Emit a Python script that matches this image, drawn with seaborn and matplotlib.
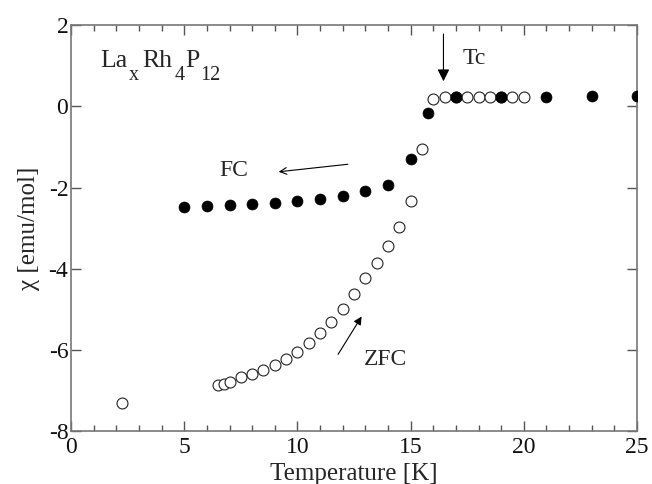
import numpy as np
import pandas as pd
import matplotlib
matplotlib.use("Agg")
import matplotlib.pyplot as plt
import seaborn as sns
from matplotlib.ticker import MultipleLocator

# --- donnees ---
temp_zfc = [2.25, 6.5, 6.75, 7.0, 7.5, 8.0, 8.5, 9.0, 9.5, 10.0, 10.5, 11.0, 11.5,
            12.0, 12.5, 13.0, 13.5, 14.0, 14.5, 15.0, 15.5, 16.0, 16.5, 17.0,
            17.5, 18.0, 18.5, 19.0, 19.5, 20.0]
chi_zfc = [-7.30, -6.87, -6.83, -6.79, -6.68, -6.60, -6.50, -6.37, -6.23, -6.05,
           -5.84, -5.59, -5.31, -5.00, -4.63, -4.24, -3.85, -3.43, -2.98, -2.33,
           -1.04, 0.17, 0.24, 0.24, 0.24, 0.24, 0.24, 0.24, 0.24, 0.24]

temp_fc = [5, 6, 7, 8, 9, 10, 11, 12, 13, 14, 15, 15.75, 17, 19, 21, 23, 25]
chi_fc = [-2.48, -2.46, -2.43, -2.41, -2.38, -2.33, -2.29, -2.21, -2.08, -1.94,
          -1.31, -0.17, 0.22, 0.24, 0.24, 0.25, 0.25]

# morceaux de la formule La_x Rh_4 P_12 (texte, indice ou non)
formula_parts = [("La", False), ("x", True), ("Rh", False), ("4", True),
                 ("P", False), ("12", True)]

sns.set_style("ticks")
plt.rcParams['font.family'] = ['Liberation Serif', 'DejaVu Serif']
plt.rcParams['axes.unicode_minus'] = False

df_zfc = pd.DataFrame({"T": temp_zfc, "chi": chi_zfc})
df_fc = pd.DataFrame({"T": temp_fc, "chi": chi_fc})

fig = plt.figure(figsize=(6.52, 4.84), dpi=100)
ax = fig.add_axes([0.109, 0.1095, 0.868, 0.8385])

sns.scatterplot(data=df_zfc, x="T", y="chi", ax=ax, marker="o", s=62,
                facecolor="white", edgecolor="#222222", linewidth=0.8, zorder=3)
sns.scatterplot(data=df_fc, x="T", y="chi", ax=ax, marker="o", s=62,
                color="black", edgecolor="black", linewidth=0.5, zorder=4)

ax.set_xlim(0, 25)
ax.set_ylim(-8, 2)
ax.xaxis.set_major_locator(MultipleLocator(5))
ax.xaxis.set_minor_locator(MultipleLocator(1))
ax.yaxis.set_major_locator(MultipleLocator(2))
ax.tick_params(which="both", direction="in", top=True, right=True,
               color="#555555", labelsize=17, labelcolor="#111111")
ax.tick_params(which="major", length=7, width=1)
ax.tick_params(which="minor", length=4, width=1)
ax.tick_params(axis="x", pad=4)
ax.tick_params(axis="y", pad=2)
for sp in ax.spines.values():
    sp.set_color("#777777")
    sp.set_linewidth(1.2)

ax.set_xlabel("Temperature [K]", fontsize=18, labelpad=4)
ax.set_ylabel("χ [emu/mol]", fontsize=18, labelpad=6)

# formule, indices bien descendus comme sur l'original
xpos = [1.28, 2.56, 3.14, 4.59, 5.04, 5.70]
for (txt, sub), xp in zip(formula_parts, xpos):
    ax.text(xp, 0.645 if sub else 0.97, txt, fontsize=14.5 if sub else 18.5,
            va="baseline", ha="left")

# annotations
ax.text(17.3, 1.19, "Tc", fontsize=17, va="center", ha="left")
ax.annotate("", xy=(16.45, 0.55), xytext=(16.45, 1.85),
            arrowprops=dict(arrowstyle="-|>", color="black", lw=0.8,
                            mutation_scale=18))
ax.text(7.2, -1.57, "FC", fontsize=17, ha="center", va="center")
ax.annotate("", xy=(9.05, -1.62), xytext=(12.35, -1.42),
            arrowprops=dict(arrowstyle="->", color="black", lw=0.8,
                            mutation_scale=12))
ax.text(13.9, -6.23, "ZFC", fontsize=17, ha="center", va="center")
ax.annotate("", xy=(12.9, -5.12), xytext=(11.73, -6.17),
            arrowprops=dict(arrowstyle="-|>", color="black", lw=0.8,
                            mutation_scale=12))

fig.savefig("out.png", dpi=100)
